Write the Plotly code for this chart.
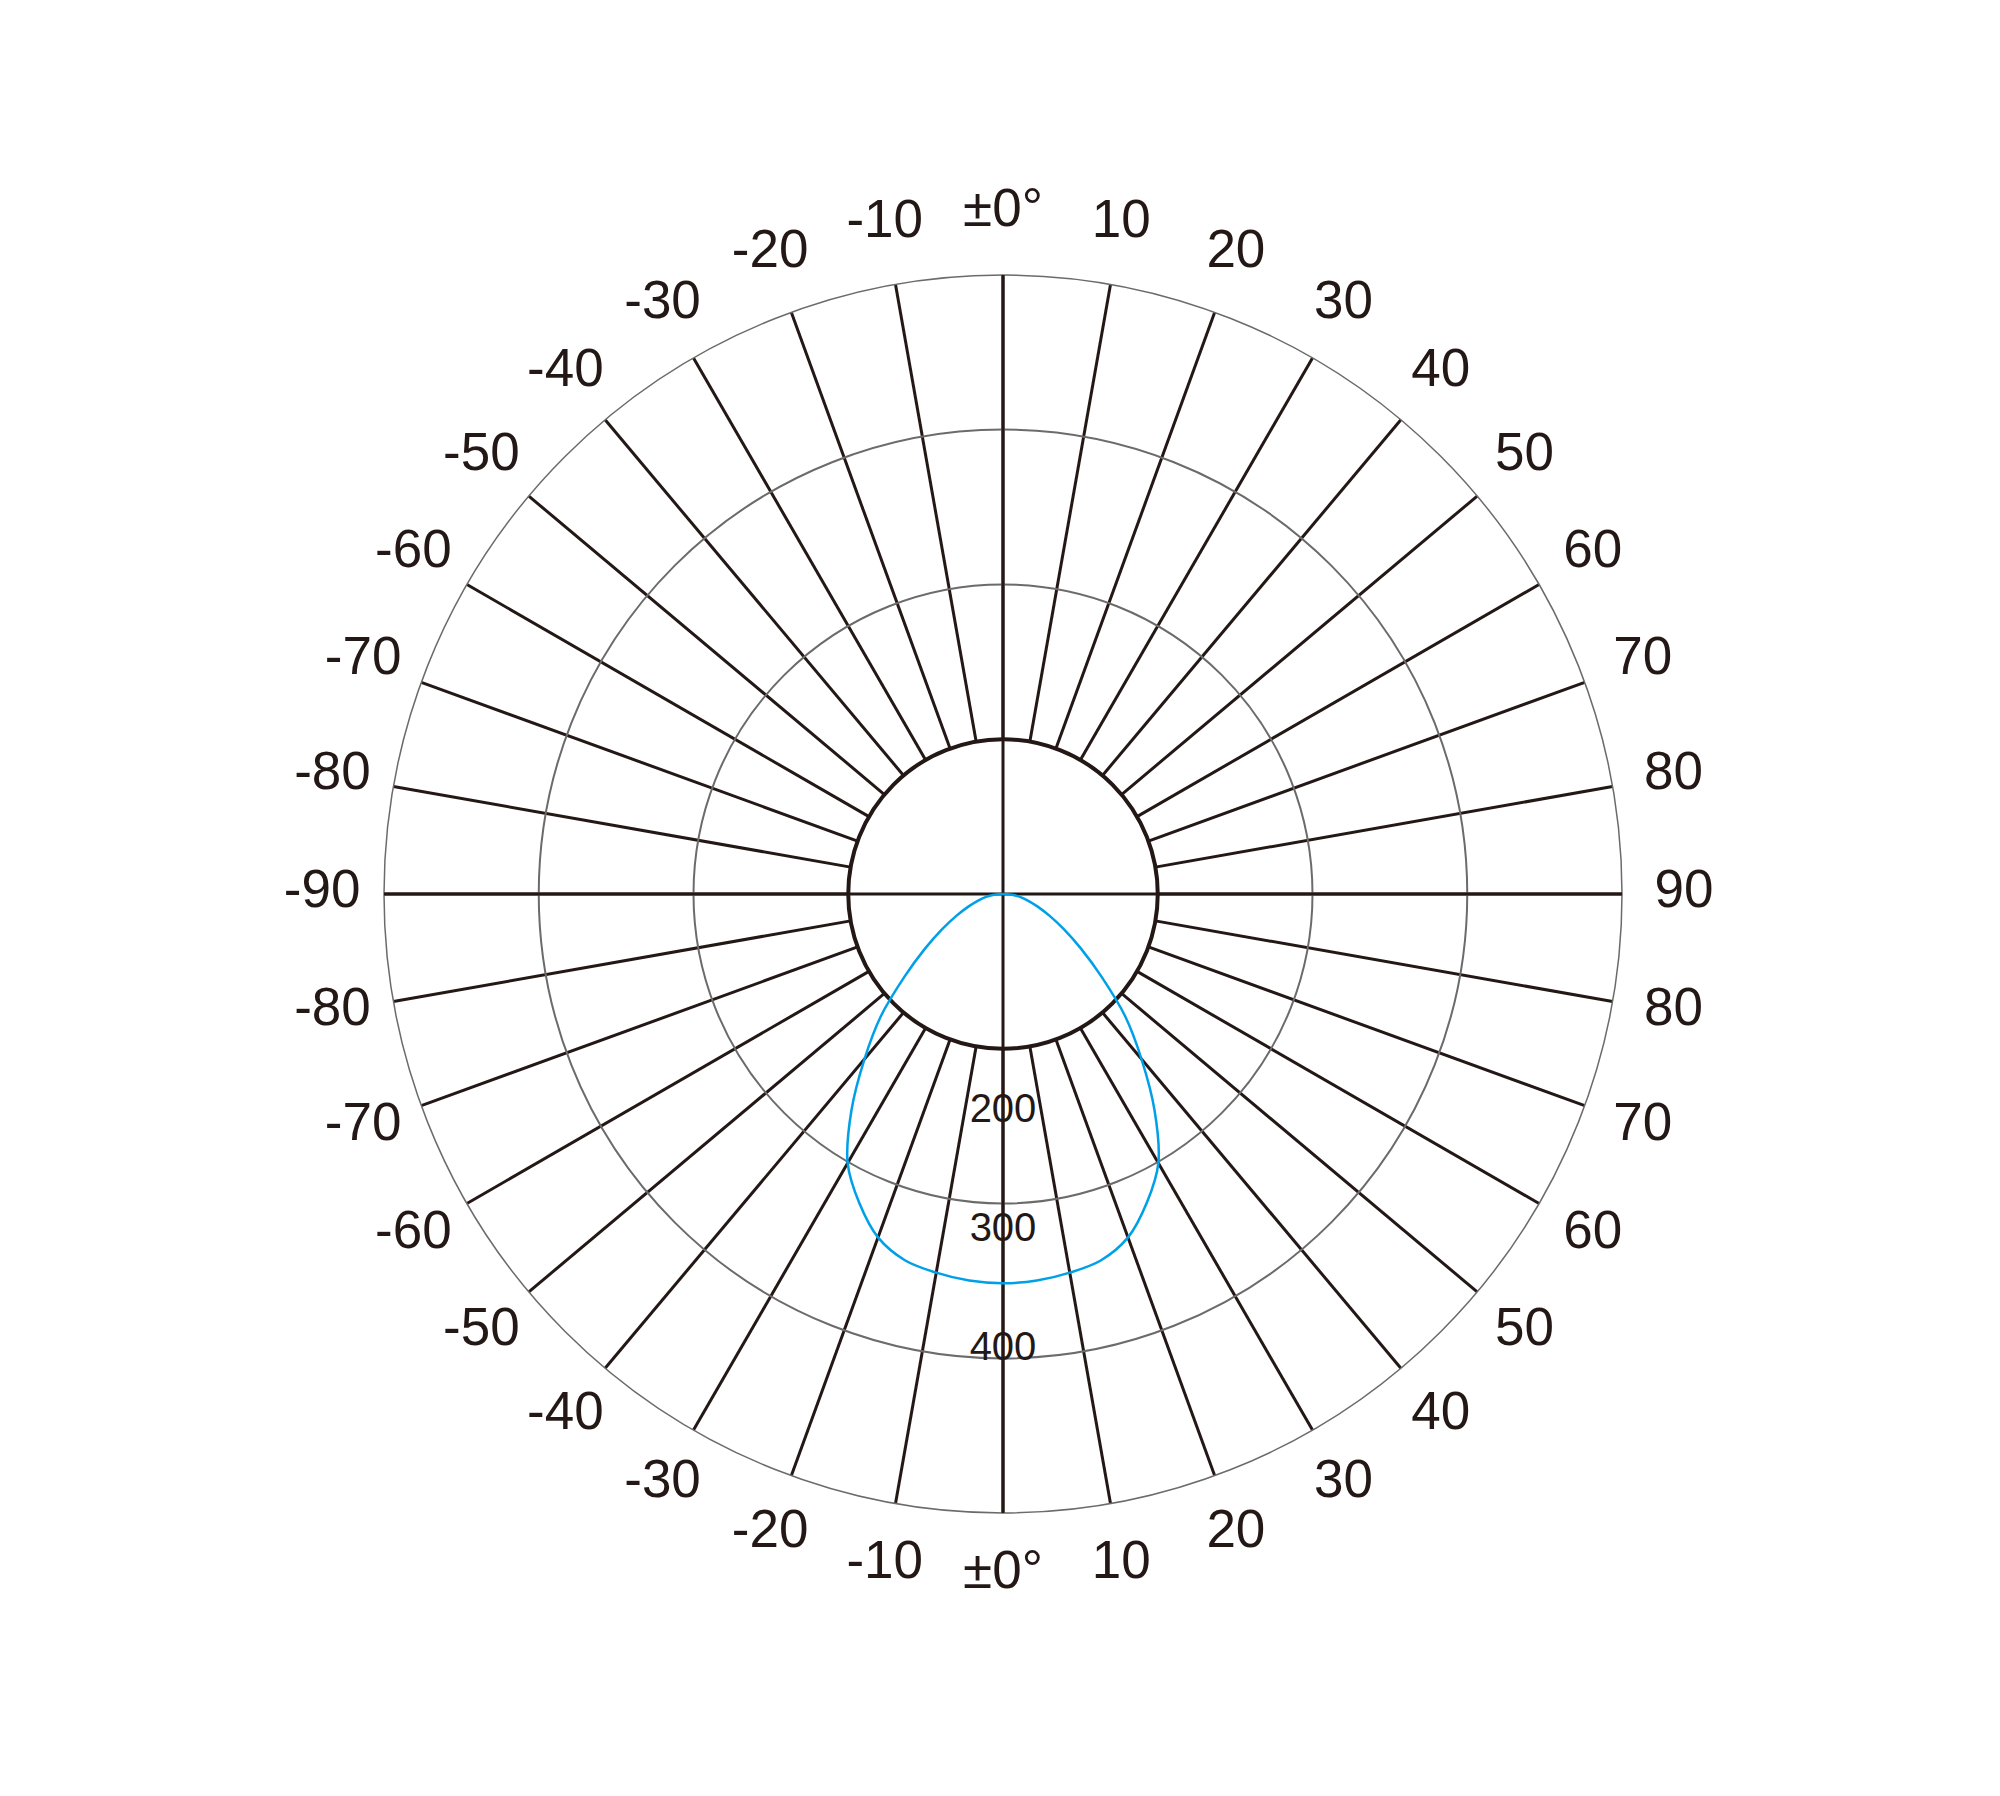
import plotly.graph_objects as go

# ---- data ----
ANGLE_TICKS = [0, 10, 20, 30, 40, 50, 60, 70, 80, 90, 100, 110, 120, 130, 140, 150, 160, 170,
               180, 190, 200, 210, 220, 230, 240, 250, 260, 270, 280, 290, 300, 310, 320, 330, 340, 350]
ANGLE_LABELS = ["±0°", "10", "20", "30", "40", "50", "60", "70", "80", "90",
                "80", "70", "60", "50", "40", "30", "20", "10",
                "±0°", "-10", "-20", "-30", "-40", "-50", "-60", "-70", "-80", "-90",
                "-80", "-70", "-60", "-50", "-40", "-30", "-20", "-10"]

# luminous intensity distribution (half profile, symmetric)
CURVE_ANGLES = [0, 5, 10, 15, 20, 25, 30, 35, 40, 45, 50, 55, 60, 65, 70, 75, 80, 85, 90]
CURVE_VALUES = [327, 326, 323, 318.5, 307, 286, 261, 222, 181, 145, 108, 80, 59, 43, 31, 22, 15, 7.5, 0]

SCALE_VALUES = [200, 300, 400]
SCALE_LABELS = ["200", "300", "400"]

R_MAX = 520          # intensity at the outer circle
HOLE = 0.25          # inner hole of the angle grid
GRID_RANGE = 3       # grid subplot radial range (rings at 1 and 2)
LABEL_R = 572        # radius of the angle labels (same units as intensity)

INK = "#231815"
GRAY = "#6b6b6b"
BLUE = "#00a0e9"
FONT = "Liberation Sans, Arial, Helvetica, sans-serif"

W, H = 2000, 1796
CX, CY, RAD = 995, 886, 619
RAD_LBL = 760        # larger subplot that carries the angle labels


def domain(rad):
    return (dict(x=[(CX - rad) / W, (CX + rad) / W],
                 y=[(H - CY - rad) / H, (H - CY + rad) / H]))


theta_full = [-a for a in reversed(CURVE_ANGLES)] + CURVE_ANGLES[1:]
r_full = list(reversed(CURVE_VALUES)) + CURVE_VALUES[1:]

fig = go.Figure()

# empty trace so that the grid subplot is rendered
fig.add_trace(go.Scatterpolar(r=[None], theta=[None], mode="lines",
                              subplot="polar", showlegend=False, hoverinfo="skip"))

fig.add_trace(go.Scatterpolar(
    r=r_full, theta=theta_full, mode="lines",
    line=dict(color=BLUE, width=2.5, shape="spline", smoothing=1.0),
    subplot="polar2", showlegend=False, hoverinfo="skip"))

fig.add_trace(go.Scatterpolar(
    r=SCALE_VALUES, theta=[0] * len(SCALE_VALUES), mode="text",
    text=SCALE_LABELS, textposition="top center",
    textfont=dict(size=40, color=INK, family=FONT),
    subplot="polar2", showlegend=False, cliponaxis=False, hoverinfo="skip"))

# angle labels around the grid
fig.add_trace(go.Scatterpolar(
    r=[LABEL_R] * len(ANGLE_TICKS), theta=ANGLE_TICKS, mode="text",
    text=ANGLE_LABELS, textposition="middle center",
    textfont=dict(size=53, color=INK, family=FONT),
    subplot="polar3", showlegend=False, cliponaxis=False, hoverinfo="skip"))

hidden_axis = dict(showticklabels=False, ticks="", showline=False, showgrid=False)

fig.update_layout(
    width=W, height=H, autosize=False,
    margin=dict(l=0, r=0, t=0, b=0),
    paper_bgcolor="white", plot_bgcolor="white",
    showlegend=False,
    polar=dict(
        domain=domain(RAD),
        hole=HOLE,
        bgcolor="white",
        radialaxis=dict(range=[0, GRID_RANGE], tickmode="array", tickvals=[1, 2],
                        showticklabels=False, ticks="", showline=False,
                        showgrid=True, gridcolor=GRAY, gridwidth=1.5),
        angularaxis=dict(rotation=90, direction="clockwise",
                         tickmode="array", tickvals=ANGLE_TICKS,
                         showticklabels=False, ticks="",
                         showgrid=True, gridcolor=INK, gridwidth=3,
                         showline=True, linecolor=GRAY, linewidth=1.5),
    ),
    polar2=dict(
        domain=domain(RAD),
        bgcolor="rgba(0,0,0,0)",
        radialaxis=dict(range=[0, R_MAX], tickmode="array", tickvals=[HOLE * R_MAX],
                        showticklabels=False, ticks="", showline=False,
                        showgrid=True, gridcolor=INK, gridwidth=4),
        angularaxis=dict(rotation=-90, direction="clockwise",
                         tickmode="array", tickvals=[0, 90, 180, 270],
                         showticklabels=False, ticks="", showline=False,
                         showgrid=True, gridcolor=INK, gridwidth=3),
    ),
    polar3=dict(
        domain=domain(RAD_LBL),
        bgcolor="rgba(0,0,0,0)",
        radialaxis=dict(range=[0, R_MAX * RAD_LBL / RAD], **hidden_axis),
        angularaxis=dict(rotation=90, direction="clockwise", **hidden_axis),
    ),
)

fig.write_html("out.html")
